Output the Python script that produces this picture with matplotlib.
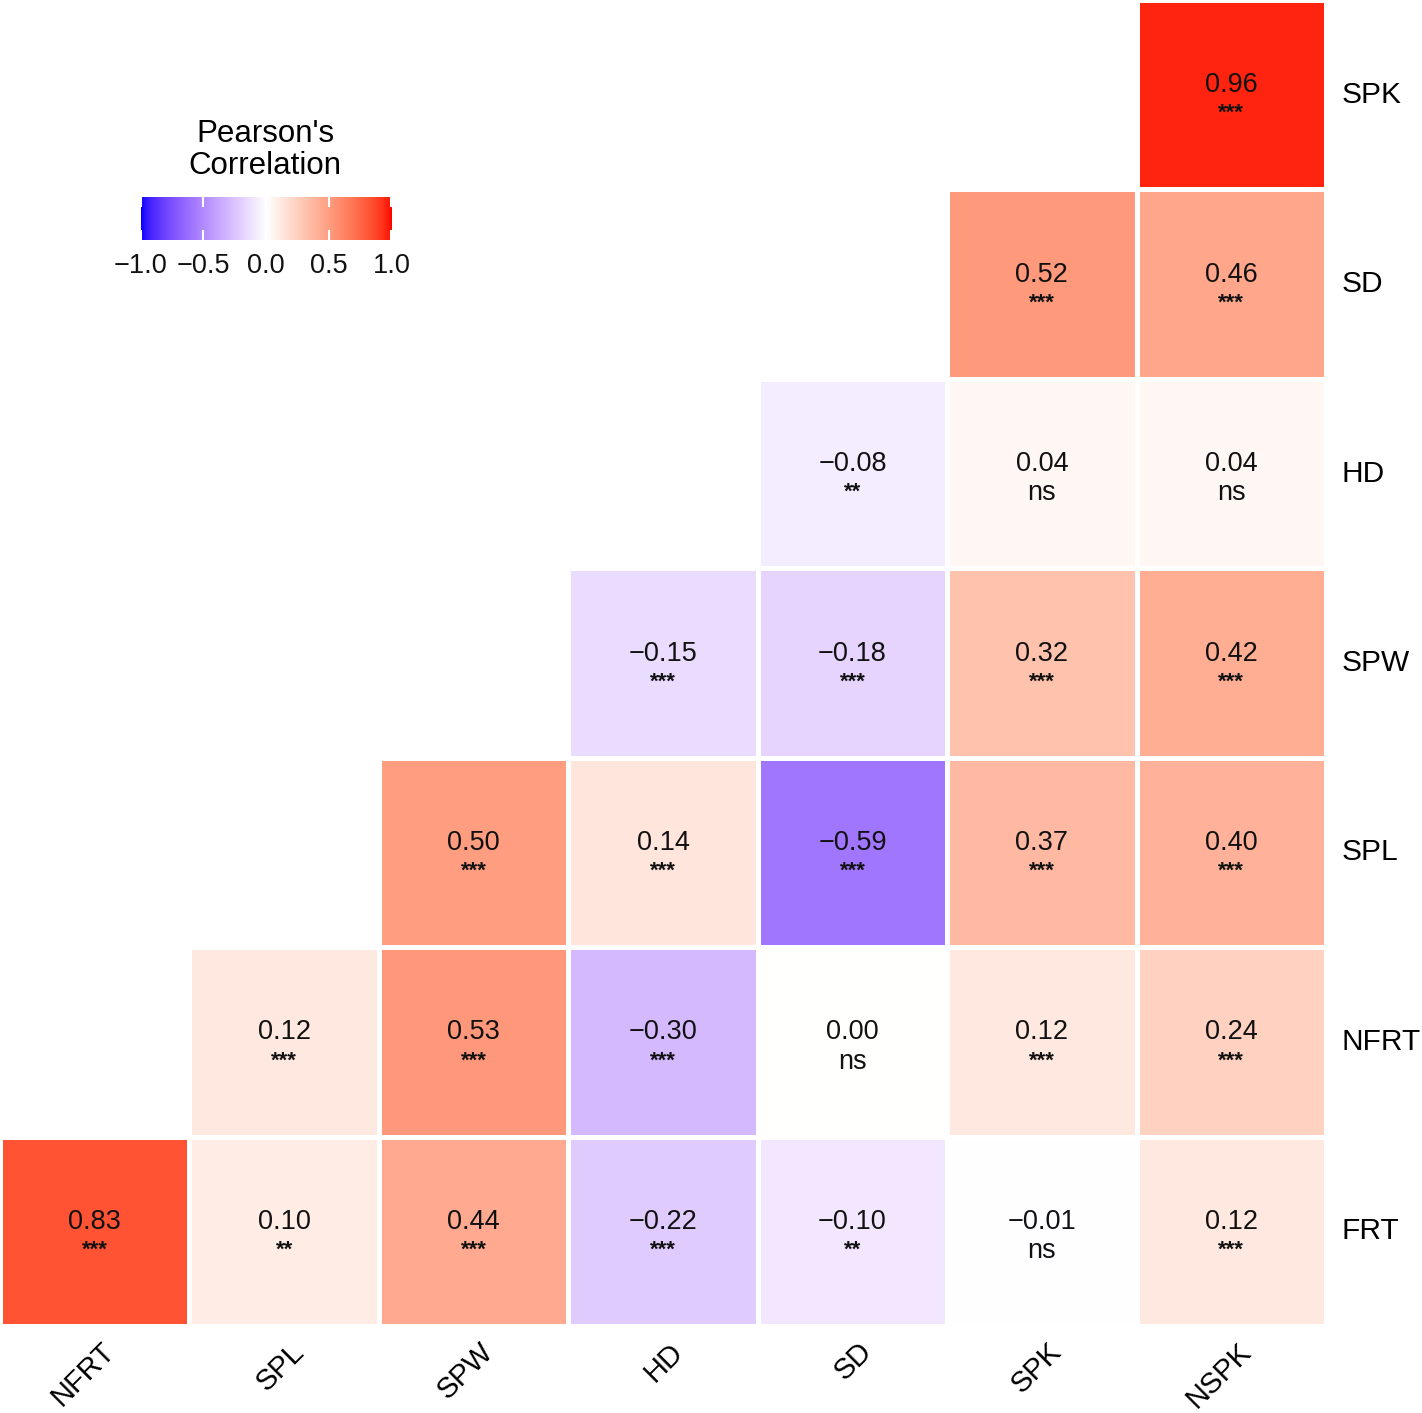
import numpy as np
import matplotlib
matplotlib.use("Agg")
import matplotlib.pyplot as plt
from matplotlib.colors import ListedColormap, Normalize

plt.rcParams['font.family'] = ['Liberation Sans', 'DejaVu Sans']

# ---------------- data ----------------
col_labels = ["NFRT", "SPL", "SPW", "HD", "SD", "SPK", "NSPK"]
row_labels = ["SPK", "SD", "HD", "SPW", "SPL", "NFRT", "FRT"]

r_SPK  = [None, None, None, None, None, None, 0.96]
r_SD   = [None, None, None, None, None, 0.52, 0.46]
r_HD   = [None, None, None, None, -0.08, 0.04, 0.04]
r_SPW  = [None, None, None, -0.15, -0.18, 0.32, 0.42]
r_SPL  = [None, None, 0.50, 0.14, -0.59, 0.37, 0.40]
r_NFRT = [None, 0.12, 0.53, -0.30, 0.00, 0.12, 0.24]
r_FRT  = [0.83, 0.10, 0.44, -0.22, -0.10, -0.01, 0.12]

s_SPK  = [None, None, None, None, None, None, "***"]
s_SD   = [None, None, None, None, None, "***", "***"]
s_HD   = [None, None, None, None, "**", "ns", "ns"]
s_SPW  = [None, None, None, "***", "***", "***", "***"]
s_SPL  = [None, None, "***", "***", "***", "***", "***"]
s_NFRT = [None, "***", "***", "***", "ns", "***", "***"]
s_FRT  = ["***", "**", "***", "***", "**", "ns", "***"]

values = [r_SPK, r_SD, r_HD, r_SPW, r_SPL, r_NFRT, r_FRT]
signif = [s_SPK, s_SD, s_HD, s_SPW, s_SPL, s_NFRT, s_FRT]

cbar_ticks = [-1.0, -0.5, 0.0, 0.5, 1.0]

# ---------------- Lab-space diverging palette (like ggplot gradient2) ----------------
def srgb_to_lab(rgb):
    rgb = np.asarray(rgb, float)
    lin = np.where(rgb <= 0.04045, rgb / 12.92, ((rgb + 0.055) / 1.055) ** 2.4)
    M = np.array([[0.4124564, 0.3575761, 0.1804375],
                  [0.2126729, 0.7151522, 0.0721750],
                  [0.0193339, 0.1191920, 0.9503041]])
    xyz = lin @ M.T
    wp = np.array([0.95047, 1.0, 1.08883])
    t = xyz / wp
    f = np.where(t > (6/29)**3, np.cbrt(t), t / (3*(6/29)**2) + 4/29)
    L = 116*f[..., 1] - 16
    a = 500*(f[..., 0] - f[..., 1])
    b = 200*(f[..., 1] - f[..., 2])
    return np.stack([L, a, b], -1)

def lab_to_srgb(lab):
    lab = np.asarray(lab, float)
    fy = (lab[..., 0] + 16) / 116
    fx = fy + lab[..., 1] / 500
    fz = fy - lab[..., 2] / 200
    f = np.stack([fx, fy, fz], -1)
    t = np.where(f > 6/29, f**3, 3*(6/29)**2*(f - 4/29))
    wp = np.array([0.95047, 1.0, 1.08883])
    xyz = t * wp
    Minv = np.array([[3.2404542, -1.5371385, -0.4985314],
                     [-0.9692660, 1.8760108, 0.0415560],
                     [0.0556434, -0.2040259, 1.0572252]])
    lin = xyz @ Minv.T
    lin = np.clip(lin, 0, 1)
    rgb = np.where(lin <= 0.0031308, 12.92*lin, 1.055*lin**(1/2.4) - 0.055)
    return np.clip(rgb, 0, 1)

lab_blue = srgb_to_lab([0, 0, 1])
lab_white = srgb_to_lab([1, 1, 1])
lab_red = srgb_to_lab([1, 0, 0])
N = 512
tt = np.linspace(-1, 1, N)
labs = []
for v in tt:
    if v < 0:
        w = -v
        labs.append(lab_white*(1-w) + lab_blue*w)
    else:
        labs.append(lab_white*(1-v) + lab_red*v)
cmap = ListedColormap(lab_to_srgb(np.array(labs)))
norm = Normalize(-1, 1)

# ---------------- figure ----------------
W, H = 1422, 1413
fig = plt.figure(figsize=(W/100, H/100), dpi=100)
ax = fig.add_axes([0.0, 1 - 1326/H, 1326/W, 1326/H])

nr, nc = len(row_labels), len(col_labels)
Z = np.ma.masked_invalid(np.array([[np.nan if v is None else v for v in row] for row in values], float))
ax.pcolormesh(np.arange(nc+1), np.arange(nr+1), Z, cmap=cmap, norm=norm,
              edgecolors='white', linewidth=2.2)
ax.set_xlim(0, nc)
ax.set_ylim(nr, 0)
ax.axis('off')

for i in range(nr):
    for j in range(nc):
        v = values[i][j]
        if v is None:
            continue
        txt = f"{v:.2f}".replace("-", "\u2212")
        ax.text(j + 0.5, i + 0.45, txt, ha='center', va='center', fontsize=19.5, color='#111111')
        s = signif[i][j]
        if s == "ns":
            ax.text(j + 0.5, i + 0.605, s, ha='center', va='center', fontsize=19.5, color='#111111')
        else:
            ax.text(j + 0.5, i + 0.6, s, ha='center', va='center', fontsize=16,
                    color='#111111', fontweight='bold')

# row labels on right
for i, lab in enumerate(row_labels):
    ax.text(nc + 0.08, i + 0.5, lab, ha='left', va='center', fontsize=21.5, color='black',
            clip_on=False)

# column labels rotated
for j, lab in enumerate(col_labels):
    ax.text(j + 0.53, nr + 0.06, lab, ha='right', va='top', rotation=45,
            rotation_mode='anchor', fontsize=21, color='black', clip_on=False)

# ---------------- colorbar legend ----------------
cax = fig.add_axes([138/W, 1 - 240/H, 256/W, 43/H])
grad = np.linspace(-1, 1, 300)[None, :]
cax.imshow(grad, aspect='auto', cmap=cmap, norm=norm, extent=[-1, 1, 0, 1])
cax.set_xlim(-1.02, 1.02)
cax.set_ylim(0, 1)
for tk in cbar_ticks:
    cax.plot([tk, tk], [0, 0.2], color='white', lw=1.5)
    cax.plot([tk, tk], [0.8, 1], color='white', lw=1.5)
cax.axis('off')
for tk in cbar_ticks:
    cax.text(tk, -0.3, f"{tk:.1f}".replace("-", "\u2212"), ha='center', va='top',
             fontsize=19.5, color='#111111', transform=cax.transData, clip_on=False)
fig.text(265/W, 1 - 150/H, "Pearson's\nCorrelation", ha='center', va='center',
         fontsize=22.5, color='black', linespacing=1.05)

fig.savefig("out.png", dpi=100, facecolor='white')
